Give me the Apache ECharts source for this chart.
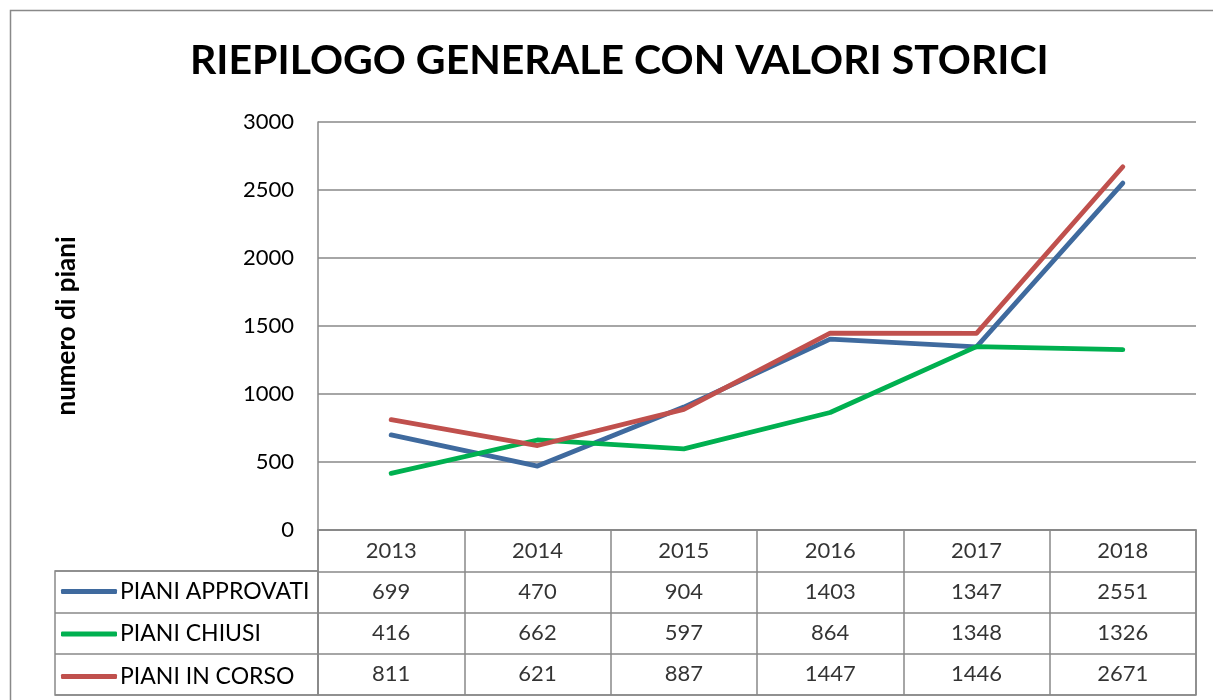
<!DOCTYPE html>
<html>
<head>
<meta charset="utf-8">
<script src="https://cdn.jsdelivr.net/npm/echarts@6/dist/echarts.min.js"></script>
<style>
    html, body { margin: 0; padding: 0; background: #fff; }
    #id-div-chart { width: 1213px; height: 700px; }
</style>
</head>
<body>
<div id="id-div-chart"></div>
<script>
var log = console.log.bind(console)

var e = (selector) => document.querySelector(selector)

// dati
var anni = ['2013', '2014', '2015', '2016', '2017', '2018']
var approvati = [699, 470, 904, 1403, 1347, 2551]
var chiusi = [416, 662, 597, 864, 1348, 1326]
var inCorso = [811, 621, 887, 1447, 1446, 2671]
var nomiSerie = ['PIANI APPROVATI', 'PIANI CHIUSI', 'PIANI IN CORSO']
var coloriSerie = ['#3f6a9e', '#00b050', '#c0504d']
var valoriAsse = [0, 500, 1000, 1500, 2000, 2500, 3000]

var grigio = '#898989'
var font = 'Lato'

// celle della tabella: [colonna, riga, testo]
var celleTabella = function() {
    var celle = []
    var righe = [anni, approvati, chiusi, inCorso]
    for (var r = 0; r < righe.length; r++) {
        for (var c = 0; c < anni.length; c++) {
            celle.push([c, r, String(righe[r][c])])
        }
    }
    return celle
}

var serieLinea = function(nome, dati, colore) {
    return {
        name: nome,
        type: 'line',
        xAxisIndex: 0,
        yAxisIndex: 0,
        data: dati,
        showSymbol: false,
        symbol: 'none',
        color: colore,
        lineStyle: {
            width: 4.8,
            color: colore,
            cap: 'round',
            join: 'round',
        },
        z: 5,
    }
}

var option = function() {
    return {
        animation: false,
        backgroundColor: '#fff',
        textStyle: {
            fontFamily: font,
        },
        graphic: [
            {
                type: 'rect',
                shape: { x: 10.5, y: 10.5, width: 1230, height: 720 },
                style: { fill: 'none', stroke: grigio, lineWidth: 1.5 },
                silent: true,
            },
        ],
        title: {
            text: 'RIEPILOGO GENERALE CON VALORI STORICI',
            left: 185,
            top: 35,
            padding: 5,
            textStyle: {
                fontFamily: font,
                fontWeight: 'bold',
                fontSize: 41,
                color: '#000',
            },
        },
        legend: {
            data: nomiSerie,
            orient: 'vertical',
            left: 61,
            top: 580,
            padding: 0,
            itemWidth: 56,
            itemHeight: 5,
            itemGap: 19.5,
            icon: 'roundRect',
            textStyle: {
                fontFamily: font,
                fontSize: 23,
                lineHeight: 22,
                color: '#000',
                padding: [0, 0, 0, -2],
            },
        },
        grid: [
            { left: 318, right: 17, top: 122, height: 408 },
            {
                left: 318, right: 17, top: 530, height: 165,
                show: true, borderColor: grigio, borderWidth: 1.5,
            },
            {
                left: 55, width: 263, top: 571, height: 124,
                show: true, borderColor: grigio, borderWidth: 1.5,
            },
        ],
        xAxis: [
            {
                type: 'category',
                gridIndex: 0,
                data: anni,
                boundaryGap: true,
                axisLine: { show: true, lineStyle: { color: grigio, width: 1.5 } },
                axisTick: { show: false },
                axisLabel: { show: false },
            },
            {
                type: 'category',
                gridIndex: 1,
                data: anni,
                boundaryGap: true,
                axisLine: { show: false },
                axisTick: { show: false },
                axisLabel: { show: false },
                splitLine: { show: true, interval: 0, lineStyle: { color: grigio, width: 1.5 } },
            },
            {
                type: 'value',
                gridIndex: 2,
                show: false,
            },
        ],
        yAxis: [
            {
                type: 'value',
                gridIndex: 0,
                min: valoriAsse[0],
                max: valoriAsse[valoriAsse.length - 1],
                interval: 500,
                name: 'numero di piani',
                nameLocation: 'middle',
                nameRotate: 90,
                nameGap: 238,
                nameTextStyle: {
                    fontFamily: font,
                    fontWeight: 'bold',
                    fontSize: 26,
                    color: '#000',
                },
                axisLine: { show: true, lineStyle: { color: grigio, width: 1.5 } },
                axisTick: { show: false },
                axisLabel: {
                    fontFamily: font,
                    fontSize: 22,
                    color: '#000',
                    margin: 24,
                    formatter: (v) => String(v),
                },
                splitLine: { show: true, lineStyle: { color: grigio, width: 1.5 } },
            },
            {
                type: 'category',
                gridIndex: 1,
                data: ['anni'].concat(nomiSerie),
                inverse: true,
                axisLine: { show: false },
                axisTick: { show: false },
                axisLabel: { show: false },
                splitLine: { show: true, interval: 0, lineStyle: { color: grigio, width: 1.5 } },
            },
            {
                type: 'category',
                gridIndex: 2,
                data: nomiSerie,
                inverse: true,
                axisLine: { show: false },
                axisTick: { show: false },
                axisLabel: { show: false },
                splitLine: { show: true, interval: 0, lineStyle: { color: grigio, width: 1.5 } },
            },
        ],
        series: [
            serieLinea(nomiSerie[0], approvati, coloriSerie[0]),
            serieLinea(nomiSerie[1], chiusi, coloriSerie[1]),
            serieLinea(nomiSerie[2], inCorso, coloriSerie[2]),
            {
                name: 'tabella',
                type: 'scatter',
                xAxisIndex: 1,
                yAxisIndex: 1,
                symbolSize: 0,
                data: celleTabella(),
                silent: true,
                label: {
                    show: true,
                    position: 'inside',
                    formatter: (p) => p.value[2],
                    fontFamily: font,
                    fontSize: 22,
                    color: '#000',
                },
            },
        ],
    }
}

var __main = function() {
    var chart = echarts.init(e('#id-div-chart'))
    chart.setOption(option())
}

__main()
</script>
</body>
</html>
